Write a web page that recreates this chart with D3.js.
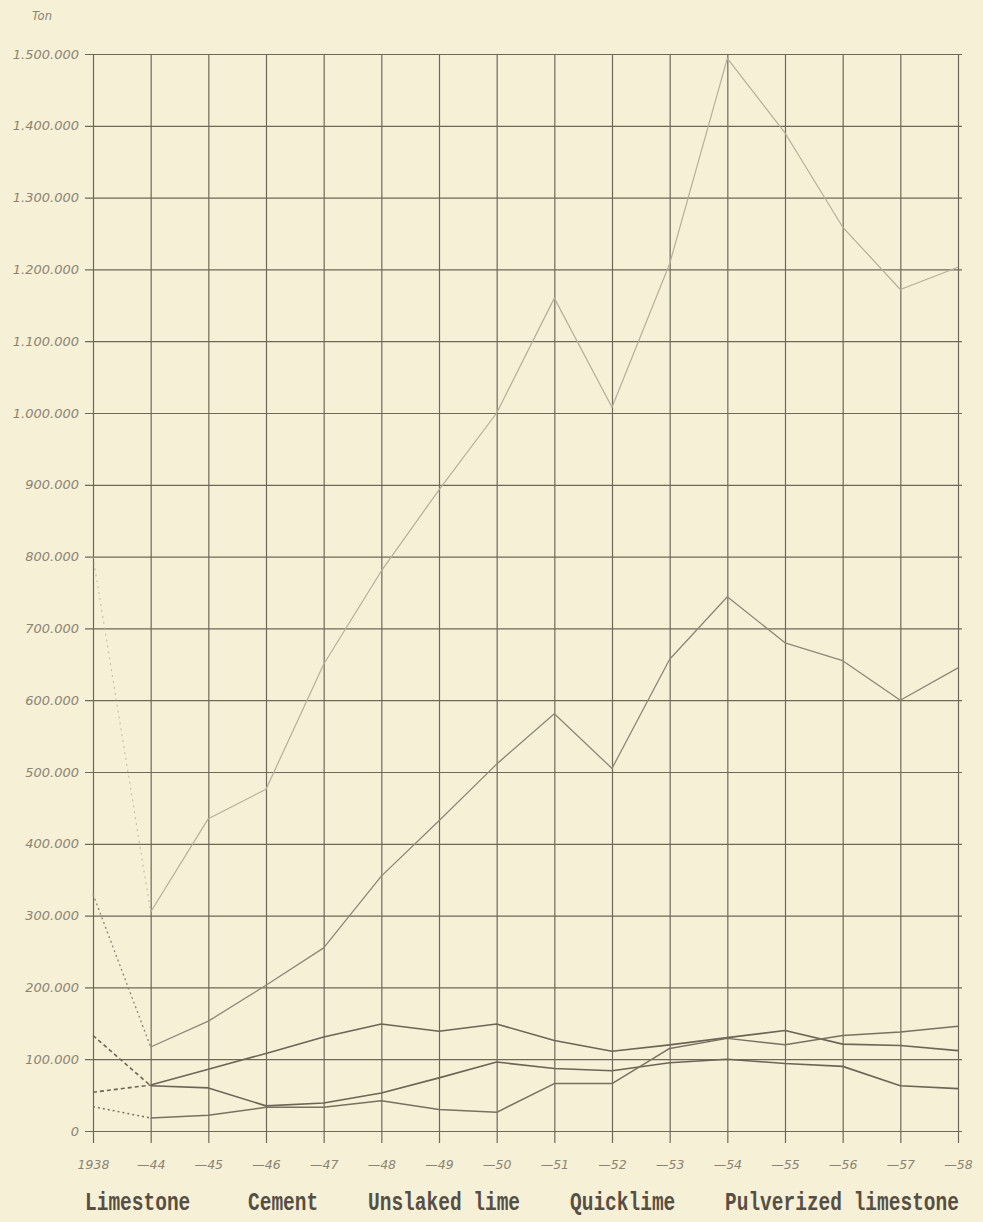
<!DOCTYPE html>
<html>
<head>
<meta charset="utf-8">
<script src="https://cdn.jsdelivr.net/npm/d3@7"></script>
<style>
  html, body { margin: 0; padding: 0; background: #f6f0d7; }
  svg { display: block; }
</style>
</head>
<body>
<svg id="chart" width="983" height="1222"></svg>
<script>
// ---- data ----
const years = ["1938","\u201444","\u201445","\u201446","\u201447","\u201448","\u201449","\u201450","\u201451","\u201452","\u201453","\u201454","\u201455","\u201456","\u201457","\u201458"];
const yTicks = [0,100000,200000,300000,400000,500000,600000,700000,800000,900000,1000000,1100000,1200000,1300000,1400000,1500000];
const seriesNames = ["Limestone","Cement","Unslaked lime","Quicklime","Pulverized limestone"];
const limestone  = [800000, 305000, 435000, 476000, 650000, 780000, 893000, 1000000, 1160000, 1008000, 1208000, 1494000, 1390000, 1259000, 1172000, 1203000];
const cement     = [330000, 117000, 153000, 203000, 255000, 355000, 432000, 511000, 581000, 505000, 657000, 744000, 680000, 655000, 600000, 645000];
const unslaked   = [54000, 64000, 86000, 108000, 131000, 149000, 139000, 149000, 126000, 111000, 120000, 130000, 140000, 121000, 119000, 112000];
const quicklime  = [133000, 63000, 60000, 35000, 39000, 53000, 74000, 96000, 87000, 84000, 95000, 100000, 94000, 90000, 63000, 59000];
const pulverized = [34000, 18000, 22000, 33000, 33000, 42000, 30000, 26000, 66000, 66000, 115000, 129000, 120000, 133000, 138000, 146000];

// ---- layout ----
const svg = d3.select("#chart");
const plotL = 93, plotR = 958, plotT = 54, plotB = 1131;
const x = d3.scalePoint().domain(years).range([plotL, plotR]);
const y = d3.scaleLinear().domain([0, 1500000]).range([plotB, plotT]);

const fmt = v => v === 0 ? "0" : d3.format(",")(v).replace(/,/g, ".");
const gridColor = "#6f6858";
const textColor = "#8c8472";

// horizontal grid + y labels
const yAxis = svg.append("g")
  .attr("transform", `translate(${plotR + 4},0)`)
  .call(d3.axisLeft(y).tickValues(yTicks).tickFormat(fmt)
        .tickSize(plotR + 4 - 85).tickPadding(6));
yAxis.select(".domain").remove();
yAxis.selectAll(".tick line").attr("stroke", gridColor).attr("stroke-width", 1.2);
yAxis.selectAll(".tick text")
  .attr("fill", textColor)
  .style("font-family", "'DejaVu Sans', sans-serif")
  .style("font-style", "italic")
  .style("font-size", "13px");

// vertical grid + x labels
const xAxis = svg.append("g")
  .attr("transform", `translate(0,${plotT})`)
  .call(d3.axisBottom(x).tickSize(1143 - plotT).tickPadding(17));
xAxis.select(".domain").remove();
xAxis.selectAll(".tick line").attr("stroke", gridColor).attr("stroke-width", 1.2);
xAxis.selectAll(".tick text")
  .attr("fill", textColor)
  .style("font-family", "'DejaVu Sans', sans-serif")
  .style("font-style", "italic")
  .style("font-size", "12.5px");

// unit label
svg.append("text")
  .attr("x", 32).attr("y", 20)
  .attr("fill", textColor)
  .style("font-family", "'DejaVu Sans', sans-serif")
  .style("font-style", "italic")
  .style("font-size", "11.5px")
  .text("Ton");

// ---- series lines ----
const seriesData = [
  { name: seriesNames[0], values: limestone,  color: "#b7ae97", width: 1.2, dash: "2,4", op: 0.7 },
  { name: seriesNames[1], values: cement,     color: "#8f8674", width: 1.3, dash: "2,3", op: 1 },
  { name: seriesNames[2], values: unslaked,   color: "#6e6455", width: 1.6, dash: "4,3", op: 1 },
  { name: seriesNames[3], values: quicklime,  color: "#6e6455", width: 1.6, dash: "4,3", op: 1 },
  { name: seriesNames[4], values: pulverized, color: "#7a7060", width: 1.5, dash: "2,3", op: 1 }
];
const line = d3.line().x(d => x(d.k)).y(d => y(d.v));

seriesData.forEach(s => {
  const pts = s.values.map((v, i) => ({ k: years[i], v }));
  svg.append("path")
    .datum(pts.slice(0, 2))
    .attr("d", line)
    .attr("fill", "none")
    .attr("stroke", s.color)
    .attr("stroke-opacity", s.op)
    .attr("stroke-width", s.width)
    .attr("stroke-dasharray", s.dash);
  svg.append("path")
    .datum(pts.slice(1))
    .attr("d", line)
    .attr("fill", "none")
    .attr("stroke", s.color)
    .attr("stroke-width", s.width)
    .attr("stroke-linejoin", "round");
});

// ---- legend (text labels only) ----
const legendX = [85, 248, 368, 570, 725];
const legend = svg.append("g");
seriesNames.forEach((n, i) => {
  legend.append("text")
    .attr("transform", `translate(${legendX[i]},1210) scale(1,1.35)`)
    .attr("fill", "#574f43")
    .style("font-family", "'Liberation Mono', 'DejaVu Sans Mono', monospace")
    .style("font-weight", "bold")
    .style("font-size", "19.5px")
    .text(n);
});
</script>
</body>
</html>
